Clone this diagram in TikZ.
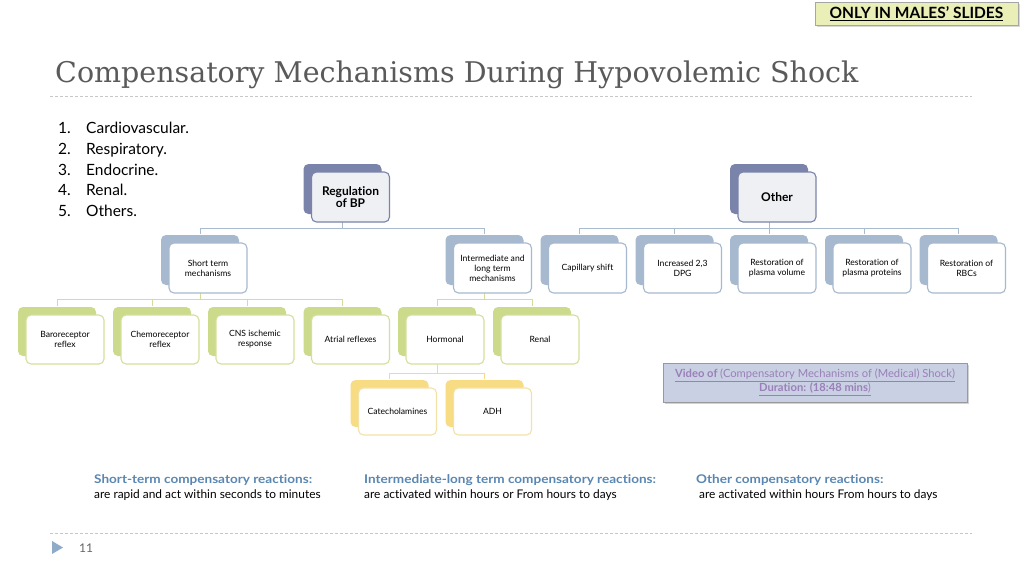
\documentclass[tikz,border=0pt]{standalone}
\usepackage{fontspec}
\setmainfont[Ligatures=NoCommon]{Lato}
\newfontfamily\titlefont{DejaVu Serif}
\newfontfamily\headfont[FakeStretch=1.13,Ligatures=NoCommon]{Lato}
\usetikzlibrary{backgrounds,shadows}
\definecolor{bA}{HTML}{7A84AA}
\definecolor{fA}{HTML}{EEF0F4}
\definecolor{bB}{HTML}{A7B9CE}
\definecolor{bC}{HTML}{CCDA8C}
\definecolor{dC}{HTML}{D3DF9C}
\definecolor{bD}{HTML}{F7DC84}
\definecolor{dD}{HTML}{F3E2A8}
\definecolor{lB}{HTML}{A9BBCF}
\definecolor{lC}{HTML}{D2DE98}
\definecolor{lD}{HTML}{F3DA88}
\definecolor{headblue}{HTML}{5A87B2}
\definecolor{vidfill}{HTML}{C9D0E3}
\definecolor{vidtext}{HTML}{9A80B8}
\definecolor{warn}{HTML}{E9EFB6}
\definecolor{titlegray}{HTML}{5A5A5A}
\definecolor{tri}{HTML}{8EACC8}
\tikzset{
  box/.style={rounded corners=5pt, minimum width=78pt, minimum height=50pt, align=center, inner sep=1pt, line width=1.1pt},
  lvlA/.style={font=\fontsize{12}{12.5}\selectfont\bfseries},
  lvlB/.style={font=\fontsize{8.6}{10}\selectfont},
  cB/.style={draw=lB, line width=1pt},
  cC/.style={draw=lC, line width=1pt},
  cD/.style={draw=lD, line width=1pt},
  sep/.style={draw=black!22, line width=0.8pt, dash pattern=on 3pt off 2pt},
  headtxt/.style={text=headblue, font=\headfont\fontsize{12}{13}\selectfont\bfseries},
  bodytxt/.style={font=\fontsize{11.9}{13}\selectfont},
}
% name, x, y, back colour, border colour, front fill, height, style, text
\newcommand\tbx[9]{%
  \node[box, fill=#4, draw=none, minimum height=#7] (#1b) at (#2-8,#3-8) {};
  \node[box, fill=#6, draw=#5, minimum height=#7, #8] (#1) at (#2,#3) {#9};}
\begin{document}
\begin{tikzpicture}[x=1pt,y=-1pt]
\useasboundingbox (0,0) rectangle (1024,576);
% top-right label
\node[fill=warn, draw=black!35, line width=0.6pt, minimum width=203pt, minimum height=23pt,
  drop shadow={shadow xshift=2pt, shadow yshift=-2pt, fill=black!30}, inner sep=0pt,
  font=\fontsize{15.5}{16}\selectfont\bfseries] (warnlbl) at (916.5,13.5) {\underline{ONLY IN MALES’ SLIDES}};
% title
\node[anchor=base west, inner sep=0pt, text=titlegray, font=\titlefont\fontsize{28.5}{30}\selectfont] (title) at (55,82) {Compensatory Mechanisms During Hypovolemic Shock};
\draw[sep] (50,96) -- (972,96);
% list
\begin{scope}[every node/.style={anchor=base west, inner sep=0pt, font=\fontsize{15.5}{17}\selectfont}]
\node (n1) at (58,133) {1.}; \node (t1) at (86,133) {Cardiovascular.};
\node (n2) at (58,154) {2.}; \node (t2) at (86,154) {Respiratory.};
\node (n3) at (58,175) {3.}; \node (t3) at (86,175) {Endocrine.};
\node (n4) at (58,195) {4.}; \node (t4) at (86,195) {Renal.};
\node (n5) at (58,216) {5.}; \node (t5) at (86,216) {Others.};
\end{scope}
% level 1
\tbx{reg}{350.5}{197}{bA}{bA}{fA}{50pt}{lvlA}{Regulation\\of BP}
\tbx{oth}{777}{197}{bA}{bA}{fA}{50pt}{lvlA}{Other}
% level 2
\tbx{st}{208}{268}{bB}{bB}{white}{50pt}{lvlB}{Short term\\mechanisms}
\tbx{im}{492.5}{268}{bB}{bB}{white}{50pt}{lvlB}{Intermediate and\\long term\\mechanisms}
\tbx{cap}{587.5}{268}{bB}{bB}{white}{50pt}{lvlB}{Capillary shift}
\tbx{dpg}{682.5}{268}{bB}{bB}{white}{50pt}{lvlB}{Increased 2,3\\DPG}
\tbx{rpv}{777}{268}{bB}{bB}{white}{50pt}{lvlB}{Restoration of\\plasma volume}
\tbx{rpp}{872}{268}{bB}{bB}{white}{50pt}{lvlB}{Restoration of\\plasma proteins}
\tbx{rbc}{966.5}{268}{bB}{bB}{white}{50pt}{lvlB}{Restoration of\\RBCs}
% level 3
\tbx{baro}{65}{339.5}{bC}{dC}{white}{49pt}{lvlB}{Baroreceptor\\reflex}
\tbx{chemo}{160}{339.5}{bC}{dC}{white}{49pt}{lvlB}{Chemoreceptor\\reflex}
\tbx{cns}{255}{339.5}{bC}{dC}{white}{49pt}{lvlB}{CNS ischemic\\response}
\tbx{atr}{350.5}{339.5}{bC}{dC}{white}{49pt}{lvlB}{Atrial reflexes}
\tbx{hor}{445}{339.5}{bC}{dC}{white}{49pt}{lvlB}{Hormonal}
\tbx{ren}{540}{339.5}{bC}{dC}{white}{49pt}{lvlB}{Renal}
% level 4
\tbx{cat}{397.5}{411.5}{bD}{dD}{white}{47pt}{lvlB}{Catecholamines}
\tbx{adh}{492.5}{411.5}{bD}{dD}{white}{47pt}{lvlB}{ADH}
% connectors
\coordinate (j1) at (0,228);
\coordinate (j2) at (0,299);
\coordinate (j3) at (0,373);
\begin{scope}[on background layer]
\fill[white] (0,0) rectangle (1024,576);
\draw[cB] (regb.south) -- (regb.south |- j1) -| (stb.north);
\draw[cB] (regb.south |- j1) -| (imb.north);
\draw[cB] (othb.south) -- (othb.south |- j1) -| (capb.north);
\draw[cB] (othb.south |- j1) -| (dpgb.north);
\draw[cB] (othb.south |- j1) -| (rpvb.north);
\draw[cB] (othb.south |- j1) -| (rppb.north);
\draw[cB] (othb.south |- j1) -| (rbcb.north);
\draw[cC] (stb.south) -- (stb.south |- j2) -| (barob.north);
\draw[cC] (stb.south |- j2) -| (chemob.north);
\draw[cC] (stb.south |- j2) -| (cnsb.north);
\draw[cC] (stb.south |- j2) -| (atrb.north);
\draw[cC] (imb.south) -- (imb.south |- j2) -| (horb.north);
\draw[cC] (imb.south |- j2) -| (renb.north);
\draw[cD] (horb.south) -- (horb.south |- j3) -| (catb.north);
\draw[cD] (horb.south |- j3) -| (adhb.north);
\end{scope}
% video box
\node[fill=vidfill, draw=black!40, line width=0.6pt, minimum width=304pt, minimum height=39pt,
  drop shadow={shadow xshift=2pt, shadow yshift=-2pt, fill=black!35}, align=center, inner sep=0pt,
  text=vidtext, font=\fontsize{11.2}{14}\selectfont] (video) at (815,382.5)
  {\underline{\textbf{Video of }(Compensatory Mechanisms of (Medical) Shock)}\\\underline{\textbf{Duration: (18:48 mins})}};
% bottom texts
\begin{scope}[every node/.style={anchor=base west, inner sep=0pt}]
\node[headtxt] (h1) at (94,483) {Short-term compensatory reactions:};
\node[bodytxt] (d1) at (94,498) {are rapid and act within seconds to minutes};
\node[headtxt] (h2) at (364,483) {Intermediate-long term compensatory reactions:};
\node[bodytxt] (d2) at (364,498) {are activated within hours or From hours to days};
\node[headtxt] (h3) at (696,483) {Other compensatory reactions:};
\node[bodytxt] (d3) at (699,498) {are activated within hours From hours to days};
\end{scope}
\draw[sep] (50,533) -- (972,533);
\fill[tri] (52,541) -- (63,547.5) -- (52,554) -- cycle;
\node[anchor=base west, inner sep=0pt, text=black!60, font=\fontsize{12}{14}\selectfont] (pg) at (79,552) {11};
\end{tikzpicture}
\end{document}
